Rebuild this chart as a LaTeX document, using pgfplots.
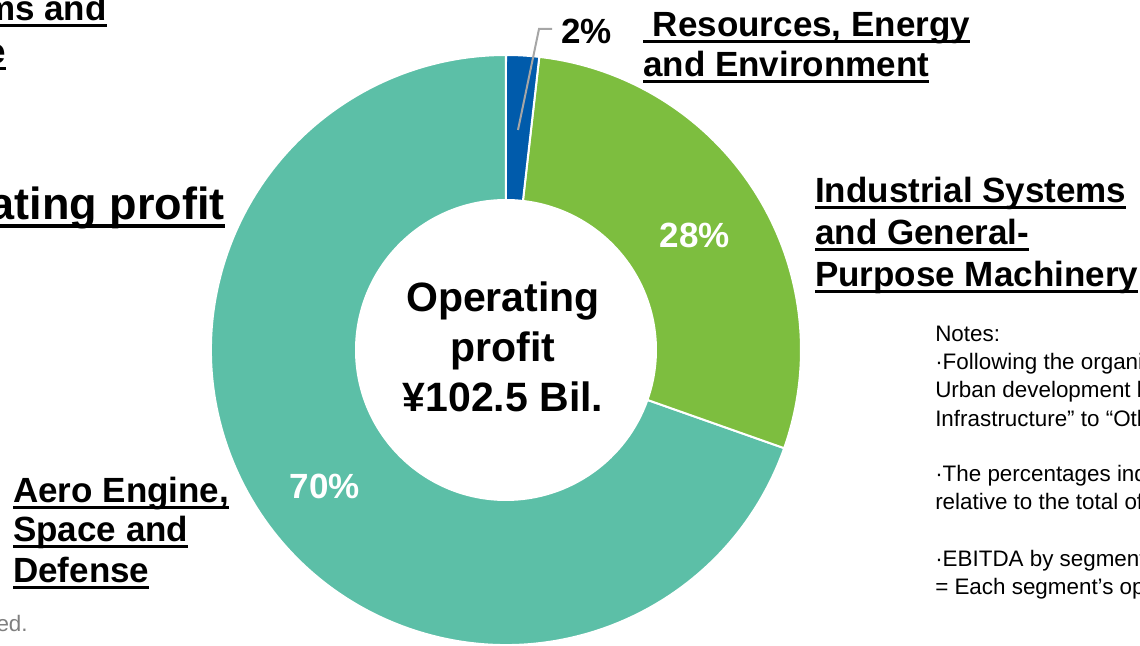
\documentclass[border=0pt]{standalone}
\usepackage{pgfplots}
\pgfplotsset{compat=1.18}
\usepackage{pgfplotstable}
\usepackage{fontspec}
\setmainfont{Liberation Sans}
\definecolor{cBlue}{HTML}{005BAB}
\definecolor{cGreen}{HTML}{7DBE3F}
\definecolor{cTeal}{HTML}{5CBFA7}
\definecolor{cLead}{HTML}{A6A6A6}
\definecolor{cGray}{HTML}{7F7F7F}
\pgfplotstableread{
seg share
RE 1.8
IS 28.6
AE 69.6
}\shares
\newsavebox\ulbox
\newcommand\ul[1]{\sbox\ulbox{#1}\rlap{\rule[-0.17em]{\wd\ulbox}{0.075em}}\usebox\ulbox}
\newcommand\lab[1]{\fontsize{26.25}{31.5}\selectfont\bfseries #1}
\newcommand\note[1]{\fontsize{16.8}{21}\selectfont #1}
% donut slice: colour, start angle, end angle (centre 506,296; radii 295/150 px)
\newcommand\slice[3]{%
  \filldraw[fill=#1,draw=white,line width=1.5pt]
   (axis cs:{506+295*cos(#2)},{296+295*sin(#2)})
   arc[start angle=#2,end angle=#3,radius=221.25pt]
   -- (axis cs:{506+150*cos(#3)},{296+150*sin(#3)})
   arc[start angle=#3,end angle=#2,radius=112.5pt] -- cycle;}
\begin{document}
\begin{tikzpicture}
\useasboundingbox (0,0) rectangle (855pt,484.5pt);
\clip (0,0) rectangle (855pt,484.5pt);
\pgfplotstablegetelem{0}{share}\of\shares \pgfmathsetmacro\aA{90-3.6*\pgfplotsretval}
\pgfplotstablegetelem{1}{share}\of\shares \pgfmathsetmacro\aB{\aA-3.6*\pgfplotsretval}
\pgfplotstablegetelem{2}{share}\of\shares \pgfmathsetmacro\aC{\aB-3.6*\pgfplotsretval}
\begin{axis}[at={(0,0)},anchor=south west,x=0.75pt,y=0.75pt,
  xmin=0,xmax=1140,ymin=0,ymax=646,hide axis,clip=false]
\slice{cTeal}{\aB}{\aC}
\slice{cGreen}{\aA}{\aB}
\slice{cBlue}{90}{\aA}
% leader line
\draw[cLead,line width=1.5pt] (axis cs:518,516) -- (axis cs:539,617) -- (axis cs:552,617);
% percent labels
\node[anchor=base west,inner sep=0] at (axis cs:561,602) {\lab{2\%}};
\node[anchor=base,inner sep=0,text=white] at (axis cs:695,398) {\lab{28\%}};
\node[anchor=base,inner sep=0,text=white] at (axis cs:325,147) {\lab{70\%}};
% centre
\node[anchor=base,inner sep=0] at (axis cs:503,334) {\fontsize{30.75}{37.5}\selectfont\bfseries Operating};
\node[anchor=base,inner sep=0] at (axis cs:503,284) {\fontsize{30.75}{37.5}\selectfont\bfseries profit};
\node[anchor=base,inner sep=0] at (axis cs:503,234) {\fontsize{30.75}{37.5}\selectfont\bfseries ¥102.5 Bil.};
% segment labels
\node[anchor=base west,inner sep=0] at (axis cs:643,609) {\lab{\ul{\ Resources, Energy}}};
\node[anchor=base west,inner sep=0] at (axis cs:643,569) {\lab{\ul{and Environment}}};
\node[anchor=base west,inner sep=0] at (axis cs:815,443) {\lab{\ul{Industrial Systems}}};
\node[anchor=base west,inner sep=0] at (axis cs:815,401) {\lab{\ul{and General-}}};
\node[anchor=base west,inner sep=0] at (axis cs:815,359) {\lab{\ul{Purpose Machinery}}};
\node[anchor=base west,inner sep=0] at (axis cs:13,143) {\lab{\ul{Aero Engine,}}};
\node[anchor=base west,inner sep=0] at (axis cs:13,104) {\lab{\ul{Space and}}};
\node[anchor=base west,inner sep=0] at (axis cs:13,63) {\lab{\ul{Defense}}};
% cut-off texts from the neighbouring chart
\node[anchor=base east,inner sep=0] at (axis cs:107,625) {\lab{\ul{Industrial Systems and}}};
\node[anchor=base east,inner sep=0] at (axis cs:6,582) {\lab{\ul{General-Purpose}}};
\node[anchor=base east,inner sep=0] at (axis cs:225,426) {\fontsize{33.75}{40}\selectfont\bfseries\ul{Operating profit}};
\node[anchor=base east,inner sep=0,text=cGray] at (axis cs:28,14) {\note{Figures are rounded.}};
% notes
\node[anchor=base west,inner sep=0] at (axis cs:935,304) {\note{Notes:}};
\node[anchor=base west,inner sep=0] at (axis cs:935,276) {\note{·Following the organizational change, the}};
\node[anchor=base west,inner sep=0] at (axis cs:935,248) {\note{Urban development business moved}};
\node[anchor=base west,inner sep=0] at (axis cs:935,219) {\note{Infrastructure” to “Others”.}};
\node[anchor=base west,inner sep=0] at (axis cs:935,164) {\note{·The percentages indicate the ratio}};
\node[anchor=base west,inner sep=0] at (axis cs:935,136) {\note{relative to the total of all segments.}};
\node[anchor=base west,inner sep=0] at (axis cs:935,79) {\note{·EBITDA by segment}};
\node[anchor=base west,inner sep=0] at (axis cs:935,51) {\note{= Each segment’s operating profit}};
\end{axis}
\end{tikzpicture}
\end{document}
